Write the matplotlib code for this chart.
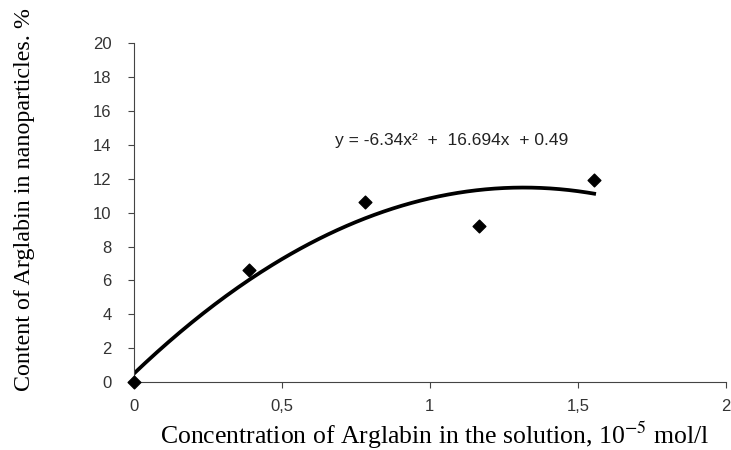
import numpy as np
import matplotlib.pyplot as plt

plt.rcParams["mathtext.fontset"] = "stix"

# Measured points
conc = [0, 0.39, 0.78, 1.165, 1.555]
content = [0, 6.6, 10.6, 9.2, 11.9]

# Trend line coefficients (as shown on the chart)
trend_coef = [-6.34, 16.694, 0.49]
trend_label = "y = -6.34x²  +  16.694x  + 0.49"

x_ticks = [0, 0.5, 1, 1.5, 2]
x_tick_labels = ["0", "0,5", "1", "1,5", "2"]
y_ticks = list(range(0, 21, 2))

fig = plt.figure(figsize=(7.31, 4.5), dpi=100)
ax = fig.add_axes([0.183, 0.151, 0.81, 0.753])

xs = np.linspace(conc[0], conc[-1], 200)
ax.plot(xs, np.polyval(trend_coef, xs), color="black", lw=2.7, zorder=2)
ax.scatter(conc, content, marker="D", s=42, color="black", zorder=3, clip_on=False)

ax.text(0.68, 14.25, trend_label, fontsize=12.5, family="Liberation Sans",
        va="center", color="#222222")

ax.set_xlim(0, 2)
ax.set_ylim(0, 20)
ax.set_xticks(x_ticks)
ax.set_xticklabels(x_tick_labels)
ax.set_yticks(y_ticks)
for lab in ax.get_xticklabels() + ax.get_yticklabels():
    lab.set_family("Liberation Sans")
    lab.set_fontsize(12)
ax.tick_params(axis="both", direction="out", length=4, width=0.8,
               colors="#444444", labelcolor="#333333")
ax.tick_params(axis="x", pad=8)
ax.tick_params(axis="y", pad=12)

for side in ["top", "right"]:
    ax.spines[side].set_visible(False)
for side in ["left", "bottom"]:
    ax.spines[side].set_color("#444444")
    ax.spines[side].set_linewidth(0.8)

ax.set_xlabel("Concentration of Arglabin in the solution, 10$^{-5}$ mol/l",
              family="Liberation Serif", fontsize=18.5)
ax.set_ylabel("Content of Arglabin in nanoparticles. %",
              family="Liberation Serif", fontsize=17.3)
ax.xaxis.set_label_coords(0.508, -0.112)
ax.yaxis.set_label_coords(-0.167, 0.54)

fig.savefig("out.png", dpi=100)
